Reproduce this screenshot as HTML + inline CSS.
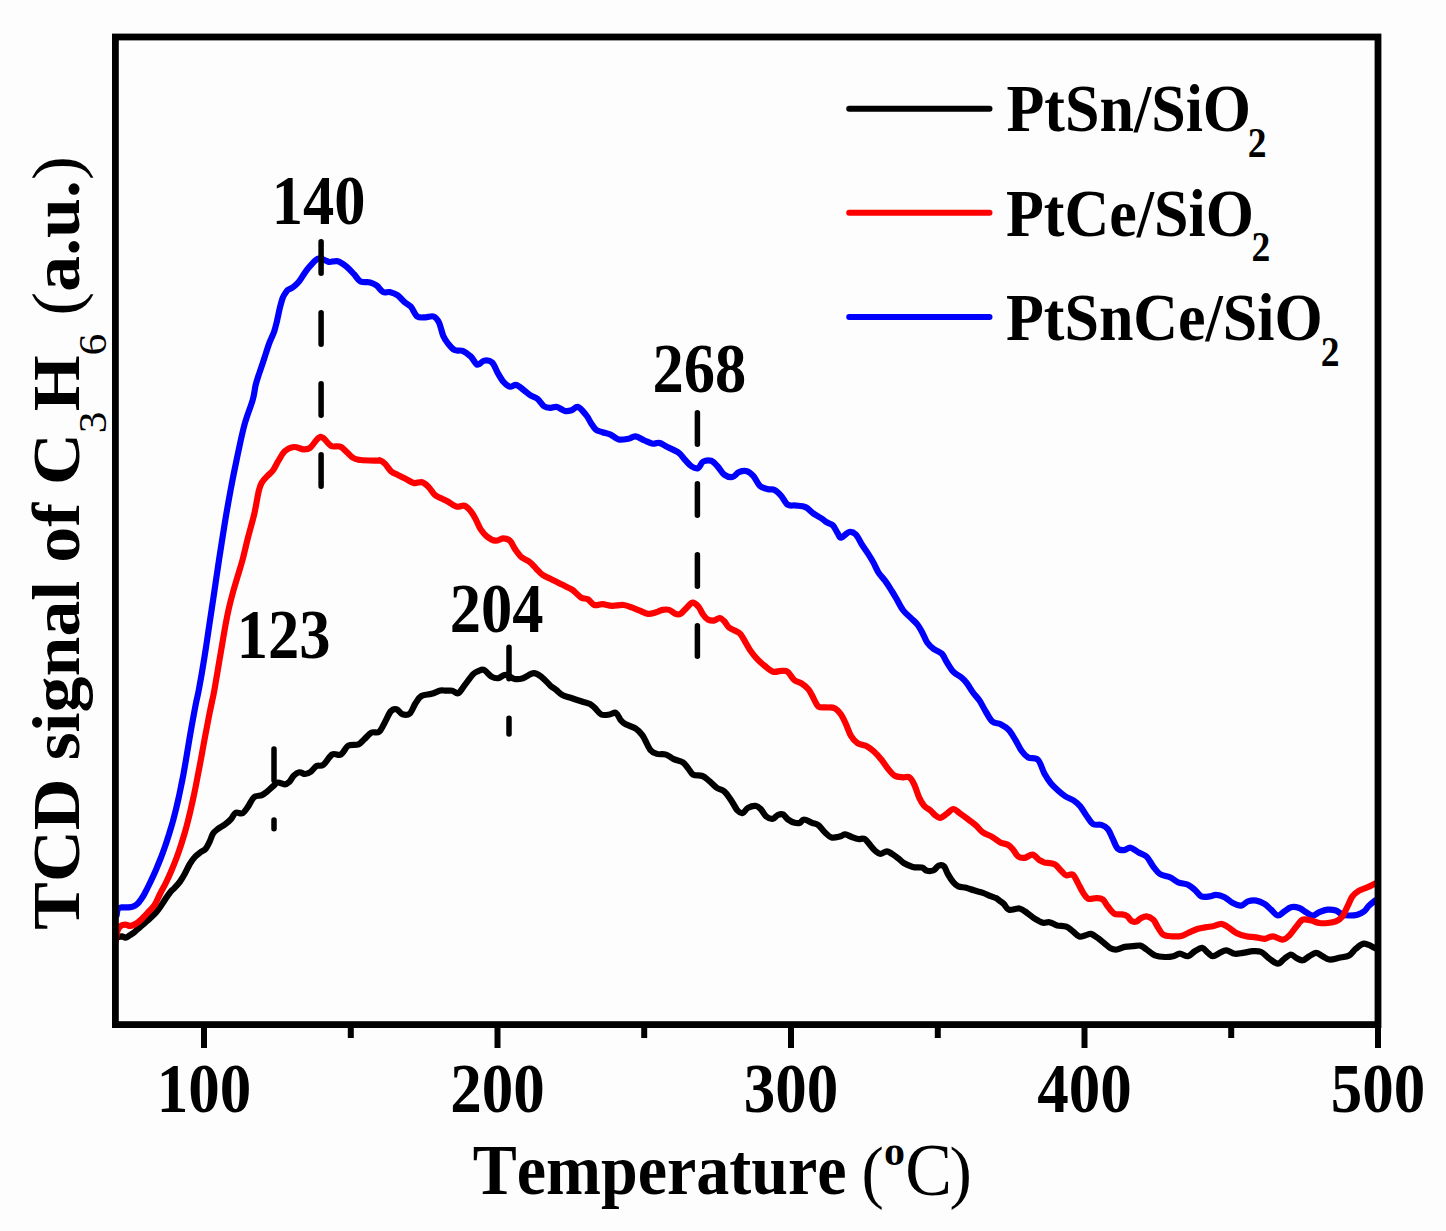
<!DOCTYPE html><html><head><meta charset="utf-8"><style>html,body{margin:0;padding:0;background:#fdfdfd;}svg{display:block;}text{font-family:"Liberation Serif",serif;font-weight:bold;fill:#000;font-kerning:none;}</style></head><body>
<svg width="1446" height="1231" viewBox="0 0 1446 1231">
<rect width="1446" height="1231" fill="#fdfdfd"/>
<g fill="none" stroke-width="6.20" stroke-linejoin="round" stroke-linecap="round">
<path stroke="#000" d="M116.5,937.5 C117.4,937.3 120.3,936.3 121.8,936.3 C123.3,936.3 124.3,937.8 125.7,937.6 C127.1,937.4 128.7,936.0 130.2,935.0 C131.7,934.0 133.2,933.1 134.8,931.8 C136.4,930.5 138.3,928.7 140.0,927.2 C141.7,925.7 143.5,924.2 145.2,922.7 C146.9,921.2 148.7,919.7 150.4,918.1 C152.1,916.5 154.0,914.7 155.6,912.9 C157.2,911.1 158.7,909.0 160.1,907.1 C161.5,905.2 162.7,903.2 164.0,901.2 C165.3,899.2 166.6,897.2 167.9,895.4 C169.2,893.6 170.9,891.4 172.0,890.2 C173.1,889.0 173.2,889.4 174.5,888.0 C175.8,886.6 178.3,884.0 180.0,881.6 C181.7,879.2 183.2,876.7 184.8,873.8 C186.4,870.9 188.1,866.9 189.7,864.1 C191.3,861.4 192.8,859.2 194.6,857.3 C196.4,855.3 198.6,853.8 200.4,852.4 C202.2,851.0 204.0,850.8 205.5,849.0 C207.0,847.2 208.3,844.2 209.6,841.7 C210.8,839.2 211.7,835.8 213.0,833.7 C214.3,831.6 215.4,830.8 217.5,829.2 C219.6,827.6 223.2,825.8 225.5,824.1 C227.8,822.4 229.5,820.8 231.2,818.9 C232.9,817.0 233.8,813.6 235.7,812.7 C237.6,811.8 240.4,814.3 242.5,813.3 C244.6,812.2 246.3,809.1 248.2,806.4 C250.1,803.7 251.6,799.2 253.9,797.3 C256.2,795.4 259.6,796.1 261.9,795.1 C264.2,794.1 265.7,792.6 267.6,791.1 C269.5,789.6 271.6,787.4 273.3,786.0 C275.0,784.6 275.9,782.8 277.8,782.5 C279.7,782.2 282.7,784.4 284.6,784.3 C286.5,784.2 287.7,783.4 289.2,782.0 C290.7,780.6 292.0,777.3 293.7,775.7 C295.4,774.1 297.5,772.6 299.4,772.3 C301.3,772.0 303.2,774.1 305.1,774.0 C307.0,773.9 308.9,773.0 310.8,771.7 C312.7,770.4 314.4,767.2 316.5,766.1 C318.6,765.0 320.8,766.7 323.4,764.8 C326.0,762.9 329.3,756.2 332.2,754.5 C335.1,752.8 338.2,756.0 340.9,754.5 C343.6,753.0 345.4,747.4 348.3,745.7 C351.2,744.0 355.8,745.4 358.5,744.3 C361.2,743.2 362.1,741.2 364.3,739.2 C366.5,737.2 369.2,733.8 371.6,732.6 C374.1,731.4 376.8,733.6 379.0,731.9 C381.2,730.2 382.9,725.8 384.8,722.4 C386.8,719.0 388.8,713.6 390.7,711.4 C392.6,709.2 394.6,708.7 396.5,709.2 C398.4,709.7 400.2,713.6 402.4,714.3 C404.6,715.0 407.5,715.4 409.7,713.6 C411.9,711.8 413.6,706.2 415.5,703.3 C417.4,700.4 418.7,697.6 421.4,696.0 C424.1,694.4 428.4,694.7 431.6,693.8 C434.8,692.9 438.0,691.0 440.4,690.5 C442.8,690.0 444.0,690.7 446.0,690.7 C448.0,690.7 450.3,690.3 452.4,690.7 C454.4,691.1 456.2,694.2 458.3,693.2 C460.4,692.2 462.4,688.1 464.9,684.9 C467.4,681.7 470.9,676.4 473.2,674.1 C475.5,671.8 476.7,671.7 478.5,671.0 C480.3,670.3 481.8,669.0 484.0,669.9 C486.2,670.8 489.1,675.2 491.5,676.6 C493.9,678.0 495.8,678.5 498.1,678.2 C500.5,677.9 502.8,674.8 505.6,674.9 C508.4,675.0 511.8,678.5 514.7,679.0 C517.6,679.5 519.8,679.2 523.0,678.2 C526.2,677.2 530.6,673.3 533.8,673.2 C537.0,673.1 539.3,675.3 542.1,677.4 C544.9,679.5 548.1,683.6 550.4,685.7 C552.7,687.8 554.0,688.2 556.0,689.8 C558.0,691.3 559.7,693.6 562.4,695.0 C565.1,696.4 568.9,697.2 572.1,698.3 C575.4,699.4 578.9,700.5 581.9,701.5 C584.9,702.5 587.8,702.9 590.0,704.0 C592.2,705.1 593.0,706.2 594.9,708.0 C596.8,709.8 598.9,713.4 601.3,714.5 C603.7,715.6 607.0,714.8 609.5,714.5 C612.0,714.2 614.1,711.9 616.0,712.9 C617.9,713.9 619.2,718.3 620.8,720.2 C622.4,722.1 623.2,722.9 625.7,724.3 C628.2,725.7 632.8,726.6 635.5,728.4 C638.2,730.1 640.4,732.8 642.0,734.8 C643.6,736.8 643.8,737.8 645.2,740.3 C646.6,742.8 648.5,747.7 650.4,750.0 C652.3,752.3 654.3,753.1 656.9,753.9 C659.5,754.7 663.2,753.7 666.0,754.6 C668.8,755.5 671.0,757.8 673.8,759.1 C676.6,760.4 680.5,760.9 682.9,762.4 C685.3,763.9 686.4,766.2 688.1,768.2 C689.8,770.2 690.9,773.4 693.3,774.7 C695.7,776.0 699.8,775.0 702.4,776.0 C705.0,777.0 706.5,778.6 708.9,780.6 C711.3,782.6 714.1,785.9 716.7,787.7 C719.3,789.5 722.1,789.5 724.5,791.6 C726.9,793.7 728.8,797.0 731.0,800.1 C733.2,803.2 735.5,808.3 737.5,810.5 C739.5,812.7 741.0,813.5 742.7,813.1 C744.4,812.7 745.7,809.1 747.9,807.9 C750.1,806.7 753.5,805.7 755.7,805.9 C757.9,806.1 759.2,807.5 760.9,809.2 C762.6,810.9 764.1,814.7 766.1,816.3 C768.1,817.9 770.7,819.1 772.6,818.9 C774.5,818.7 776.1,815.8 777.8,815.0 C779.5,814.2 781.3,813.6 783.0,814.4 C784.7,815.2 786.2,818.2 788.2,819.6 C790.2,821.0 792.7,822.3 794.7,822.8 C796.7,823.3 798.5,823.3 800.0,822.8 C801.5,822.2 801.9,819.5 803.9,819.5 C805.9,819.5 809.6,821.8 812.0,822.8 C814.4,823.8 816.3,823.6 818.5,825.2 C820.7,826.8 822.8,830.5 825.0,832.5 C827.2,834.5 829.0,836.8 831.5,837.4 C834.0,838.0 837.7,836.9 840.0,836.4 C842.3,835.9 843.2,834.3 845.2,834.4 C847.2,834.5 849.5,836.2 851.7,837.0 C853.9,837.8 856.0,838.7 858.2,839.0 C860.4,839.3 862.8,838.0 864.7,839.0 C866.7,840.0 868.2,842.8 869.9,844.8 C871.6,846.8 873.4,849.2 875.1,850.7 C876.8,852.2 878.3,853.8 880.3,853.9 C882.2,854.0 884.8,851.3 886.8,851.3 C888.8,851.3 890.0,852.7 892.0,853.9 C894.0,855.1 896.5,857.0 898.5,858.5 C900.5,860.0 901.3,861.6 903.7,863.0 C906.1,864.4 909.8,866.1 912.8,866.9 C915.8,867.7 919.5,867.0 921.9,867.6 C924.3,868.2 925.1,870.4 927.1,870.8 C929.1,871.2 931.7,871.1 933.6,870.2 C935.5,869.3 937.1,866.2 938.8,865.6 C940.5,865.0 942.5,864.9 944.0,866.3 C945.5,867.7 946.4,871.5 947.9,874.1 C949.4,876.7 951.4,879.9 953.1,881.9 C954.8,883.9 956.1,885.4 958.3,886.4 C960.5,887.4 963.5,887.1 966.1,887.7 C968.7,888.4 971.1,889.4 973.9,890.3 C976.7,891.2 980.2,891.9 983.0,892.9 C985.8,893.9 988.6,895.3 990.8,896.2 C993.0,897.1 994.5,897.3 996.0,898.1 C997.5,898.9 998.7,900.0 1000.0,901.0 C1001.3,902.0 1002.4,902.5 1003.9,904.0 C1005.4,905.5 1006.5,909.0 1009.1,909.8 C1011.7,910.5 1016.5,908.0 1019.5,908.5 C1022.5,909.0 1024.7,911.4 1027.3,913.1 C1029.9,914.8 1032.5,917.3 1035.1,918.9 C1037.7,920.5 1040.5,922.2 1042.9,922.8 C1045.3,923.3 1047.0,921.8 1049.4,922.2 C1051.8,922.6 1054.4,924.6 1057.2,925.4 C1060.0,926.1 1063.7,925.7 1066.3,926.7 C1068.9,927.7 1070.6,929.7 1072.8,931.3 C1075.0,932.9 1077.1,935.9 1079.3,936.5 C1081.5,937.1 1083.8,935.6 1085.8,935.2 C1087.8,934.8 1089.0,933.5 1091.0,933.9 C1093.0,934.3 1095.3,936.3 1097.5,937.8 C1099.7,939.3 1101.8,941.3 1104.0,943.0 C1106.2,944.7 1108.3,947.1 1110.5,948.2 C1112.7,949.3 1114.6,949.7 1117.0,949.5 C1119.4,949.3 1122.2,947.4 1124.8,946.9 C1127.4,946.4 1130.0,946.4 1132.6,946.2 C1135.2,946.0 1138.1,945.1 1140.4,945.6 C1142.7,946.1 1144.2,947.9 1146.6,949.5 C1149.0,951.1 1151.9,954.1 1154.9,955.4 C1158.0,956.6 1161.9,956.9 1164.9,957.0 C1168.0,957.1 1170.7,956.8 1173.2,956.2 C1175.7,955.7 1177.3,953.7 1179.8,953.7 C1182.3,953.7 1185.6,956.6 1188.1,956.2 C1190.6,955.8 1192.4,952.6 1194.8,951.2 C1197.2,949.8 1200.0,947.6 1202.2,947.9 C1204.4,948.2 1206.2,951.5 1208.0,952.9 C1209.8,954.3 1211.0,956.2 1213.0,956.2 C1215.0,956.2 1217.5,953.9 1219.7,952.9 C1221.9,951.9 1223.8,950.3 1226.3,950.4 C1228.8,950.5 1231.8,953.3 1234.6,953.7 C1237.4,954.1 1239.9,953.3 1242.9,952.9 C1246.0,952.5 1249.9,951.4 1252.9,951.2 C1256.0,951.1 1258.4,950.8 1261.2,952.0 C1264.0,953.2 1266.7,956.8 1269.5,958.7 C1272.3,960.7 1275.3,963.7 1277.8,963.7 C1280.3,963.7 1282.2,960.2 1284.4,958.7 C1286.6,957.2 1289.1,954.6 1291.0,954.5 C1292.9,954.4 1294.0,956.8 1296.0,957.8 C1298.0,958.8 1300.5,960.6 1302.7,960.3 C1304.9,960.0 1307.1,957.4 1309.3,956.2 C1311.5,955.0 1313.7,952.9 1315.9,952.9 C1318.1,952.9 1320.4,955.1 1322.6,956.2 C1324.8,957.3 1326.4,959.2 1329.2,959.5 C1332.0,959.8 1335.9,958.5 1339.2,957.8 C1342.5,957.1 1346.3,956.9 1349.1,955.4 C1351.9,953.9 1353.3,950.7 1355.8,948.7 C1358.3,946.8 1360.9,943.8 1364.1,943.7 C1367.3,943.6 1373.2,947.3 1375.0,948.0"/>
<path stroke="#0000ff" d="M116.6,915.5 C116.8,914.4 117.0,910.4 117.9,909.0 C118.8,907.6 120.1,907.7 121.8,907.4 C123.5,907.1 126.4,907.6 128.3,907.4 C130.2,907.2 131.9,907.0 133.5,906.4 C135.1,905.8 136.5,904.7 137.8,903.5 C139.1,902.3 140.2,900.6 141.3,899.0 C142.4,897.4 142.9,896.8 144.4,894.0 C145.9,891.2 148.5,886.0 150.4,882.0 C152.3,878.0 154.2,874.0 155.9,870.0 C157.6,866.0 159.2,862.0 160.8,858.0 C162.4,854.0 163.8,850.0 165.2,846.0 C166.6,842.0 167.8,838.0 169.1,834.0 C170.3,830.0 171.6,826.0 172.7,822.0 C173.8,818.0 174.8,814.0 175.8,810.0 C176.8,806.0 177.7,802.0 178.6,798.0 C179.5,794.0 180.3,790.0 181.1,786.0 C181.9,782.0 182.8,778.0 183.5,774.0 C184.2,770.0 184.9,766.0 185.6,762.0 C186.3,758.0 186.9,754.0 187.6,750.0 C188.3,746.0 188.9,742.0 189.6,738.0 C190.3,734.0 191.0,730.0 191.7,726.0 C192.4,722.0 193.2,718.0 193.9,714.0 C194.7,710.0 195.4,706.0 196.2,702.0 C197.0,698.0 197.4,697.4 198.8,690.0 C200.2,682.6 202.7,668.3 204.4,657.5 C206.2,646.7 207.7,635.8 209.3,625.0 C210.9,614.2 212.6,603.3 214.2,592.5 C215.8,581.7 217.2,571.7 219.0,560.0 C220.8,548.3 223.0,534.2 224.9,522.5 C226.8,510.8 228.6,500.8 230.6,490.0 C232.6,479.2 234.8,468.3 237.1,457.5 C239.4,446.7 241.8,434.6 244.4,425.0 C247.0,415.4 250.8,406.6 252.7,400.0 C254.6,393.4 254.5,389.9 255.6,385.3 C256.7,380.7 258.0,377.2 259.5,372.6 C261.0,368.1 262.8,362.9 264.4,358.0 C266.0,353.1 267.6,347.8 269.2,343.4 C270.8,339.0 272.8,335.4 274.1,331.7 C275.4,327.9 276.0,325.0 277.0,320.9 C278.0,316.8 279.0,311.2 280.0,307.3 C281.0,303.4 281.9,299.9 282.9,297.5 C283.8,295.1 284.8,293.9 285.7,292.6 C286.6,291.3 287.0,290.6 288.1,289.8 C289.2,289.0 290.9,288.7 292.2,287.8 C293.5,286.9 295.0,285.6 296.2,284.5 C297.4,283.4 298.4,282.3 299.5,280.9 C300.6,279.5 301.6,277.6 302.7,276.0 C303.8,274.4 304.9,272.6 306.0,271.1 C307.1,269.6 308.1,268.4 309.2,267.1 C310.3,265.8 311.4,264.5 312.5,263.4 C313.6,262.2 314.7,261.0 315.7,260.2 C316.7,259.4 317.5,258.6 318.6,258.5 C319.8,258.4 321.2,258.9 322.6,259.3 C324.0,259.7 325.5,260.6 326.7,261.0 C327.9,261.4 328.2,262.0 330.0,262.0 C331.8,262.0 335.1,260.5 337.7,261.2 C340.3,261.9 343.2,263.9 345.9,266.1 C348.6,268.3 351.6,271.6 354.0,274.2 C356.4,276.8 357.8,280.1 360.5,281.5 C363.2,282.9 367.5,281.7 370.2,282.4 C372.9,283.1 374.5,284.0 376.7,285.6 C378.9,287.2 381.0,291.0 383.2,292.1 C385.4,293.2 387.3,291.6 389.7,292.1 C392.1,292.7 395.4,293.8 397.8,295.4 C400.2,297.0 402.1,300.0 404.3,301.9 C406.5,303.8 408.6,304.3 410.8,306.7 C413.0,309.1 414.9,314.7 417.3,316.5 C419.8,318.3 422.8,317.3 425.5,317.3 C428.2,317.3 431.4,315.6 433.6,316.5 C435.9,317.4 437.4,319.2 439.0,322.5 C440.6,325.8 441.8,332.5 443.3,336.0 C444.8,339.5 446.2,341.2 448.1,343.6 C450.0,346.0 452.2,348.9 454.6,350.1 C457.0,351.3 460.0,349.8 462.7,350.9 C465.4,352.0 468.4,354.3 470.9,356.6 C473.3,358.9 475.2,364.0 477.4,364.7 C479.6,365.4 481.5,361.1 483.9,360.7 C486.3,360.3 489.7,360.3 492.0,362.3 C494.3,364.3 495.8,369.6 497.7,372.9 C499.6,376.1 501.4,379.5 503.4,381.8 C505.4,384.1 507.7,386.2 509.9,386.7 C512.1,387.2 514.0,384.3 516.4,385.0 C518.8,385.7 522.1,388.9 524.5,390.7 C526.9,392.5 528.8,394.2 531.0,395.6 C533.2,397.0 535.3,397.1 537.5,398.9 C539.7,400.7 541.8,404.7 544.0,406.2 C546.2,407.7 548.3,407.7 550.5,407.8 C552.7,407.9 554.6,406.5 557.0,407.0 C559.4,407.5 562.7,410.5 565.1,411.0 C567.5,411.5 569.4,410.9 571.6,410.2 C573.8,409.5 575.7,406.2 578.1,407.0 C580.5,407.8 584.0,412.4 586.2,415.1 C588.4,417.8 589.5,420.8 591.1,423.2 C592.7,425.6 594.1,428.2 596.0,429.7 C597.9,431.2 600.1,431.4 602.5,432.2 C604.9,433.0 607.9,433.4 610.6,434.6 C613.3,435.8 615.7,438.8 618.7,439.5 C621.7,440.2 625.7,439.2 628.5,438.7 C631.3,438.2 632.8,436.0 635.5,436.3 C638.2,436.6 641.7,439.3 644.6,440.5 C647.5,441.7 650.3,443.3 652.7,443.7 C655.1,444.1 656.8,442.3 659.2,442.9 C661.7,443.4 664.1,445.4 667.4,447.0 C670.6,448.6 675.7,450.5 678.7,452.7 C681.7,454.9 683.0,457.7 685.2,460.0 C687.4,462.3 689.5,465.1 691.7,466.5 C693.9,467.9 696.3,468.9 698.2,468.1 C700.1,467.3 700.9,462.8 703.1,461.6 C705.3,460.4 708.8,460.0 711.2,460.8 C713.6,461.6 715.5,464.2 717.7,466.5 C719.9,468.8 721.8,472.9 724.2,474.6 C726.7,476.4 730.0,477.4 732.4,477.0 C734.8,476.6 736.5,473.1 738.9,472.2 C741.3,471.2 744.6,470.6 747.0,471.3 C749.4,472.0 751.3,473.8 753.5,476.2 C755.7,478.6 757.6,483.8 760.0,486.0 C762.4,488.2 765.7,488.5 768.1,489.2 C770.5,489.9 772.4,488.9 774.6,490.0 C776.8,491.1 778.9,493.2 781.1,495.7 C783.3,498.1 785.2,503.1 787.6,504.7 C790.0,506.3 792.7,505.1 795.7,505.5 C798.7,505.9 802.5,505.8 805.5,507.1 C808.5,508.5 810.9,511.7 813.6,513.6 C816.3,515.5 819.6,517.1 821.7,518.5 C823.9,519.9 824.6,521.0 826.5,522.2 C828.4,523.4 831.1,523.6 833.0,525.5 C834.9,527.4 836.5,531.6 837.9,533.6 C839.2,535.6 839.2,538.0 841.1,537.7 C843.0,537.4 846.8,532.5 849.2,532.0 C851.6,531.5 853.5,532.2 855.7,534.4 C857.9,536.6 860.0,541.6 862.2,545.0 C864.4,548.4 866.8,551.7 868.7,554.7 C870.6,557.7 872.0,559.9 873.6,562.9 C875.2,565.9 876.6,569.6 878.5,572.6 C880.4,575.6 882.8,577.7 885.0,580.7 C887.2,583.7 889.6,587.5 891.5,590.5 C893.4,593.5 894.5,595.4 896.4,598.6 C898.3,601.9 900.5,606.8 902.9,610.0 C905.3,613.2 908.6,615.7 911.0,618.1 C913.4,620.5 915.6,622.2 917.5,624.6 C919.4,627.0 920.8,629.7 922.4,632.7 C924.0,635.7 925.3,639.8 927.2,642.5 C929.1,645.2 931.2,647.1 933.7,649.0 C936.2,650.9 939.7,651.6 941.9,653.8 C944.1,656.0 944.8,659.0 946.7,662.0 C948.6,665.0 950.8,669.1 953.2,671.7 C955.6,674.3 959.1,675.6 961.3,677.4 C963.5,679.2 964.5,680.2 966.5,682.7 C968.5,685.2 970.8,689.5 973.0,692.5 C975.2,695.5 977.3,697.4 979.5,700.6 C981.7,703.9 983.8,708.5 986.0,712.0 C988.2,715.5 990.1,719.7 992.5,721.7 C994.9,723.7 997.9,722.8 1000.6,724.2 C1003.3,725.6 1006.3,727.3 1008.7,729.9 C1011.1,732.5 1013.0,736.1 1015.2,739.6 C1017.4,743.1 1019.5,748.0 1021.7,751.0 C1023.9,754.0 1025.5,756.0 1028.2,757.5 C1030.9,759.0 1035.3,757.2 1038.0,759.9 C1040.7,762.6 1042.3,769.8 1044.5,773.7 C1046.7,777.6 1048.8,780.8 1051.0,783.5 C1053.2,786.2 1055.1,787.8 1057.5,790.0 C1059.9,792.2 1062.9,794.8 1065.6,796.5 C1068.3,798.2 1071.3,798.9 1073.7,800.5 C1076.1,802.1 1078.0,803.6 1080.2,806.2 C1082.4,808.8 1084.5,813.0 1086.7,816.0 C1088.9,819.0 1090.8,822.6 1093.2,824.1 C1095.6,825.6 1098.9,824.1 1101.3,824.9 C1103.7,825.7 1105.9,826.7 1107.8,829.0 C1109.7,831.3 1111.1,835.5 1112.7,838.7 C1114.3,842.0 1115.7,846.6 1117.6,848.5 C1119.5,850.4 1121.9,850.2 1124.1,850.1 C1126.3,850.0 1128.2,847.3 1130.6,847.7 C1133.0,848.1 1136.0,851.0 1138.7,852.5 C1141.4,854.0 1144.2,854.2 1146.6,856.6 C1149.0,859.0 1151.1,863.7 1153.3,866.6 C1155.5,869.5 1157.1,872.2 1159.9,874.0 C1162.7,875.8 1166.9,875.9 1169.9,877.3 C1173.0,878.7 1175.2,881.0 1178.2,882.3 C1181.2,883.5 1185.3,883.5 1188.1,884.8 C1190.9,886.0 1192.6,887.9 1194.8,889.8 C1197.0,891.7 1198.9,895.3 1201.4,896.4 C1203.9,897.5 1207.2,896.7 1209.7,896.4 C1212.2,896.1 1213.8,894.6 1216.3,894.8 C1218.8,894.9 1221.8,895.9 1224.6,897.3 C1227.4,898.7 1230.1,901.7 1232.9,903.1 C1235.7,904.5 1238.7,905.9 1241.2,905.6 C1243.7,905.3 1245.4,902.2 1247.9,901.4 C1250.4,900.6 1253.4,900.2 1256.2,900.6 C1259.0,901.0 1262.0,902.4 1264.5,903.9 C1267.0,905.4 1268.9,907.8 1271.1,909.7 C1273.3,911.6 1275.6,915.2 1277.8,915.5 C1280.0,915.8 1282.2,912.8 1284.4,911.4 C1286.6,910.0 1288.5,907.8 1291.0,907.2 C1293.5,906.6 1296.8,907.2 1299.3,908.0 C1301.8,908.8 1303.8,911.0 1306.0,912.2 C1308.2,913.5 1310.4,915.5 1312.6,915.5 C1314.8,915.5 1316.8,913.2 1319.3,912.2 C1321.8,911.2 1324.8,910.0 1327.6,909.7 C1330.4,909.4 1333.4,909.7 1335.9,910.5 C1338.4,911.3 1340.3,913.9 1342.5,914.7 C1344.7,915.5 1346.6,915.5 1349.1,915.5 C1351.6,915.5 1354.9,915.4 1357.4,914.7 C1359.9,914.0 1362.2,912.9 1364.1,911.4 C1366.0,909.9 1367.2,907.4 1369.0,905.6 C1370.8,903.8 1374.0,901.4 1375.0,900.6"/>
<path stroke="#ff0000" d="M115.9,940.2 C116.1,938.8 116.6,934.1 117.2,931.8 C117.8,929.5 118.5,927.8 119.8,926.6 C121.1,925.4 123.3,924.7 125.0,924.6 C126.7,924.5 128.5,926.0 130.2,925.9 C131.9,925.8 133.8,924.9 135.4,924.0 C137.0,923.1 138.5,922.0 140.0,920.7 C141.5,919.4 143.0,917.8 144.5,916.2 C146.0,914.6 147.4,912.9 149.1,911.0 C150.8,909.1 152.8,907.8 154.6,905.0 C156.4,902.2 158.1,897.8 160.0,894.0 C161.9,890.2 164.4,886.0 166.3,882.0 C168.2,878.0 170.0,874.0 171.7,870.0 C173.4,866.0 175.0,862.0 176.5,858.0 C178.0,854.0 179.4,850.0 180.7,846.0 C182.0,842.0 183.2,838.0 184.4,834.0 C185.6,830.0 186.7,826.0 187.7,822.0 C188.7,818.0 189.7,814.0 190.6,810.0 C191.5,806.0 192.4,802.0 193.3,798.0 C194.2,794.0 195.0,790.0 195.8,786.0 C196.6,782.0 197.3,778.0 198.1,774.0 C198.9,770.0 199.7,766.0 200.4,762.0 C201.2,758.0 201.9,754.0 202.6,750.0 C203.3,746.0 204.1,742.0 204.8,738.0 C205.6,734.0 206.3,730.0 207.1,726.0 C207.9,722.0 208.6,718.0 209.4,714.0 C210.2,710.0 211.1,706.0 211.9,702.0 C212.7,698.0 213.1,697.4 214.4,690.0 C215.7,682.6 218.1,668.3 219.9,657.5 C221.8,646.7 224.0,633.1 225.5,625.0 C227.0,616.9 227.6,614.1 228.8,608.7 C230.0,603.3 231.4,597.9 232.9,592.5 C234.4,587.1 236.1,581.6 237.7,576.2 C239.3,570.8 240.8,566.2 242.5,560.0 C244.2,553.8 245.8,546.3 247.7,538.7 C249.6,531.1 252.3,522.4 254.2,514.3 C256.1,506.2 257.6,495.4 259.0,490.0 C260.4,484.6 260.8,484.3 262.3,481.9 C263.8,479.5 266.2,477.3 268.0,475.4 C269.8,473.5 271.1,472.9 272.9,470.5 C274.6,468.1 276.5,463.9 278.5,460.7 C280.5,457.4 282.4,453.3 285.0,451.0 C287.6,448.7 290.9,447.3 294.0,447.0 C297.1,446.7 301.0,449.3 303.7,449.4 C306.4,449.5 307.8,449.6 310.2,447.7 C312.6,445.8 316.2,439.6 318.4,438.0 C320.6,436.4 321.0,436.7 323.2,438.0 C325.4,439.3 328.3,444.5 331.3,446.0 C334.3,447.5 337.5,445.1 341.0,447.0 C344.5,448.9 349.2,455.3 352.5,457.5 C355.8,459.7 356.6,459.5 360.6,460.0 C364.7,460.5 373.6,460.6 376.8,460.7 C380.0,460.8 378.6,459.8 380.0,460.3 C381.4,460.8 383.0,461.7 384.9,463.6 C386.8,465.5 389.2,469.8 391.4,471.7 C393.6,473.6 395.5,473.7 397.9,474.9 C400.3,476.1 403.3,477.6 406.0,479.0 C408.7,480.4 411.4,482.6 414.1,483.1 C416.8,483.6 419.8,481.5 422.2,482.2 C424.6,482.9 426.5,484.9 428.7,487.1 C430.9,489.3 433.0,493.3 435.2,495.2 C437.4,497.1 439.5,497.4 441.7,498.5 C443.9,499.6 445.8,500.3 448.2,501.7 C450.6,503.1 453.7,505.9 456.4,506.6 C459.1,507.3 462.1,505.0 464.5,505.8 C466.9,506.6 469.1,509.2 471.0,511.5 C472.9,513.8 474.3,516.6 475.9,519.6 C477.5,522.6 478.8,526.5 480.7,529.4 C482.6,532.2 484.8,534.8 487.2,536.7 C489.6,538.6 492.7,540.4 495.4,540.7 C498.1,541.0 501.1,538.3 503.5,538.3 C505.9,538.3 508.1,538.9 510.0,540.7 C511.9,542.5 513.0,546.2 514.9,548.9 C516.8,551.6 518.9,554.8 521.3,557.0 C523.7,559.2 527.0,560.0 529.5,561.9 C532.0,563.8 533.8,566.2 536.0,568.4 C538.2,570.5 539.8,572.9 542.5,574.8 C545.2,576.7 549.0,578.1 552.2,579.7 C555.5,581.3 558.8,583.0 562.0,584.6 C565.2,586.2 569.6,588.3 571.7,589.5 C573.9,590.7 573.3,590.6 574.9,592.0 C576.5,593.4 579.2,596.5 581.4,597.7 C583.6,598.9 585.7,598.1 587.9,599.3 C590.1,600.5 592.0,604.2 594.4,605.0 C596.8,605.8 599.5,604.1 602.5,604.2 C605.5,604.3 608.7,605.7 612.2,605.8 C615.7,605.9 620.4,604.7 623.6,605.0 C626.9,605.3 629.0,606.4 631.7,607.4 C634.4,608.4 637.2,609.6 639.9,610.7 C642.6,611.8 645.3,613.6 648.0,613.9 C650.7,614.2 653.7,613.0 656.1,612.3 C658.5,611.6 660.4,610.3 662.6,609.9 C664.8,609.5 666.9,609.2 669.1,609.9 C671.3,610.6 673.7,613.2 675.6,613.9 C677.5,614.6 678.6,615.0 680.5,613.9 C682.4,612.8 685.0,609.3 687.0,607.4 C689.0,605.5 690.8,602.7 692.7,602.6 C694.6,602.5 696.6,604.6 698.4,606.6 C700.1,608.6 701.6,612.5 703.2,614.7 C704.8,616.9 706.2,618.7 708.1,619.6 C710.0,620.5 712.7,620.7 714.6,620.4 C716.5,620.1 717.9,617.9 719.5,618.0 C721.1,618.1 722.7,619.6 724.3,621.2 C725.9,622.8 727.3,626.1 729.2,627.7 C731.1,629.3 733.8,629.9 735.7,631.0 C737.6,632.1 739.0,632.3 740.6,634.2 C742.2,636.1 743.9,639.7 745.5,642.4 C747.1,645.1 748.4,647.8 750.3,650.5 C752.2,653.2 754.4,656.0 756.8,658.6 C759.2,661.2 762.2,663.8 764.9,666.0 C767.6,668.2 770.3,670.9 773.0,671.7 C775.7,672.5 778.7,670.9 781.1,670.9 C783.5,670.9 785.4,670.2 787.6,671.7 C789.8,673.2 791.7,677.8 794.1,679.8 C796.5,681.8 799.8,682.3 802.2,683.9 C804.6,685.5 806.8,687.2 808.7,689.6 C810.6,692.0 812.0,695.7 813.6,698.5 C815.2,701.3 816.3,705.1 818.5,706.6 C820.7,708.1 823.9,707.1 826.6,707.4 C829.3,707.7 832.3,707.0 834.7,708.2 C837.1,709.4 839.3,712.0 841.2,714.7 C843.1,717.4 844.5,721.0 846.1,724.5 C847.7,728.0 849.1,732.8 851.0,735.9 C852.9,739.0 854.8,741.5 857.5,743.2 C860.2,745.0 864.5,745.0 867.2,746.4 C869.9,747.8 871.2,749.0 873.7,751.3 C876.2,753.6 879.5,757.2 881.9,760.2 C884.3,763.2 886.2,766.6 888.4,769.2 C890.5,771.8 892.4,774.4 894.8,775.7 C897.2,777.1 900.5,777.0 903.0,777.3 C905.5,777.6 907.6,776.1 909.5,777.3 C911.4,778.5 912.7,781.2 914.3,784.6 C915.9,788.0 917.6,794.1 919.2,797.6 C920.8,801.1 922.2,803.5 924.1,805.7 C926.0,807.9 928.7,809.0 930.6,810.6 C932.5,812.2 933.9,814.3 935.5,815.5 C937.1,816.7 938.4,818.2 940.3,817.9 C942.2,817.6 944.6,815.3 946.8,813.8 C949.0,812.3 951.1,809.1 953.3,809.0 C955.5,808.9 957.2,811.4 959.8,813.2 C962.4,815.0 966.3,817.9 969.0,820.0 C971.7,822.1 973.9,823.7 976.2,825.7 C978.5,827.7 980.0,830.3 982.7,832.2 C985.4,834.1 989.6,835.4 992.5,837.1 C995.4,838.8 997.8,841.1 1000.3,842.4 C1002.8,843.7 1005.7,843.6 1007.8,844.8 C1009.9,846.0 1011.3,847.4 1013.0,849.4 C1014.7,851.4 1016.2,855.1 1018.2,856.5 C1020.2,857.9 1022.3,858.1 1024.7,857.8 C1027.1,857.5 1030.1,854.3 1032.5,854.6 C1034.9,854.9 1037.0,858.5 1039.0,859.8 C1041.0,861.1 1041.6,861.6 1044.2,862.4 C1046.8,863.1 1051.8,862.9 1054.6,864.3 C1057.4,865.7 1059.1,868.9 1061.1,870.8 C1063.0,872.6 1064.3,874.8 1066.3,875.4 C1068.2,876.0 1070.8,873.4 1072.8,874.7 C1074.8,876.0 1076.3,880.2 1078.0,883.2 C1079.7,886.2 1081.5,890.3 1083.2,892.9 C1084.9,895.5 1086.2,897.9 1088.4,898.8 C1090.6,899.7 1093.8,898.0 1096.2,898.1 C1098.6,898.2 1100.8,898.0 1102.7,899.4 C1104.7,900.8 1106.0,904.2 1107.9,906.6 C1109.9,909.0 1112.0,912.4 1114.4,913.7 C1116.8,915.0 1120.0,914.0 1122.2,914.4 C1124.4,914.8 1125.9,915.2 1127.4,916.3 C1128.9,917.4 1129.8,920.0 1131.3,920.9 C1132.8,921.8 1135.0,921.9 1136.5,921.5 C1138.0,921.1 1138.8,919.4 1140.5,918.5 C1142.2,917.6 1144.5,916.1 1146.6,916.3 C1148.7,916.5 1151.3,917.8 1153.3,919.7 C1155.2,921.7 1156.6,925.5 1158.3,928.0 C1160.0,930.5 1161.0,933.2 1163.2,934.6 C1165.4,936.0 1168.5,936.1 1171.5,936.3 C1174.5,936.5 1178.5,936.6 1181.5,935.9 C1184.5,935.2 1187.0,933.3 1189.8,932.1 C1192.6,930.9 1195.3,929.6 1198.1,928.8 C1200.9,928.0 1203.9,927.5 1206.4,927.1 C1208.9,926.7 1210.5,926.8 1213.0,926.3 C1215.5,925.8 1218.8,923.7 1221.3,923.8 C1223.8,923.9 1225.5,925.6 1228.0,927.1 C1230.5,928.6 1233.3,931.4 1236.3,932.9 C1239.3,934.4 1243.2,935.6 1246.2,936.3 C1249.2,937.0 1251.5,936.7 1254.5,937.1 C1257.5,937.5 1261.5,938.9 1264.5,938.8 C1267.5,938.7 1269.8,936.2 1272.8,936.3 C1275.8,936.4 1279.9,939.8 1282.7,939.6 C1285.5,939.5 1287.2,937.5 1289.4,935.4 C1291.6,933.3 1293.8,929.7 1296.0,927.1 C1298.2,924.5 1300.2,920.8 1302.7,919.7 C1305.2,918.6 1308.2,920.0 1311.0,920.5 C1313.8,921.0 1316.5,922.6 1319.3,923.0 C1322.1,923.4 1324.8,923.3 1327.6,923.0 C1330.4,922.7 1333.4,922.4 1335.9,921.3 C1338.4,920.2 1340.6,918.8 1342.5,916.3 C1344.4,913.8 1345.8,909.7 1347.5,906.4 C1349.2,903.1 1350.5,899.0 1352.4,896.4 C1354.3,893.8 1356.6,892.1 1359.1,890.6 C1361.6,889.1 1364.8,888.5 1367.4,887.3 C1370.1,886.1 1373.7,884.1 1375.0,883.5"/>
</g>
<rect x="115.4" y="37" width="1262.6" height="987.6" fill="none" stroke="#000" stroke-width="6.8"/>
<line x1="204.0" y1="1024" x2="204.0" y2="1048" stroke="#000" stroke-width="6"/>
<line x1="497.5" y1="1024" x2="497.5" y2="1048" stroke="#000" stroke-width="6"/>
<line x1="791.0" y1="1024" x2="791.0" y2="1048" stroke="#000" stroke-width="6"/>
<line x1="1084.5" y1="1024" x2="1084.5" y2="1048" stroke="#000" stroke-width="6"/>
<line x1="1378.0" y1="1024" x2="1378.0" y2="1048" stroke="#000" stroke-width="6"/>
<line x1="350.8" y1="1024" x2="350.8" y2="1038" stroke="#000" stroke-width="6"/>
<line x1="644.2" y1="1024" x2="644.2" y2="1038" stroke="#000" stroke-width="6"/>
<line x1="937.8" y1="1024" x2="937.8" y2="1038" stroke="#000" stroke-width="6"/>
<line x1="1231.2" y1="1024" x2="1231.2" y2="1038" stroke="#000" stroke-width="6"/>
<text transform="translate(204.0,1112) scale(1,1.105)" font-size="63" text-anchor="middle">100</text>
<text transform="translate(497.5,1112) scale(1,1.105)" font-size="63" text-anchor="middle">200</text>
<text transform="translate(791.0,1112) scale(1,1.105)" font-size="63" text-anchor="middle">300</text>
<text transform="translate(1084.5,1112) scale(1,1.105)" font-size="63" text-anchor="middle">400</text>
<text transform="translate(1378.0,1112) scale(1,1.105)" font-size="63" text-anchor="middle">500</text>
<line x1="321.1" y1="241.75" x2="321.1" y2="486.65" stroke="#000" stroke-width="5.5" stroke-linecap="round" stroke-dasharray="31.50 39.50"/>
<line x1="697.4" y1="412.75" x2="697.4" y2="656.25" stroke="#000" stroke-width="5.5" stroke-linecap="round" stroke-dasharray="31.50 39.50"/>
<line x1="509" y1="647.15" x2="509" y2="734.05" stroke="#000" stroke-width="5.5" stroke-linecap="round" stroke-dasharray="31.50 39.50"/>
<line x1="274" y1="748.95" x2="274" y2="828.65" stroke="#000" stroke-width="5.5" stroke-linecap="round" stroke-dasharray="31.50 39.50"/>
<text transform="translate(271.8,223.5) scale(1,1.1)" font-size="62.5">140</text>
<text transform="translate(652.6,391.7) scale(1,1.1)" font-size="62.5">268</text>
<text transform="translate(236.8,657.5) scale(1,1.1)" font-size="62.5">123</text>
<text transform="translate(449.7,631.7) scale(1,1.1)" font-size="62.5">204</text>
<line x1="849.2" y1="108.8" x2="989.5" y2="108.8" stroke="#000" stroke-width="6" stroke-linecap="round"/>
<text transform="translate(1006.5,130.8) scale(1,1.1)" font-size="62">PtSn/SiO</text>
<text transform="translate(1247.7,157.1) scale(1,1.1)" font-size="37.6">2</text>
<line x1="849.2" y1="212.8" x2="989.5" y2="212.8" stroke="#ff0000" stroke-width="6" stroke-linecap="round"/>
<text transform="translate(1006,235.8) scale(1,1.1)" font-size="62">PtCe/SiO</text>
<text transform="translate(1251.5,261.1) scale(1,1.1)" font-size="37.6">2</text>
<line x1="849.2" y1="316.9" x2="989.5" y2="316.9" stroke="#0000ff" stroke-width="6" stroke-linecap="round"/>
<text transform="translate(1005.9,339.7) scale(1,1.1)" font-size="62">PtSnCe/SiO</text>
<text transform="translate(1320.7,365.9) scale(1,1.1)" font-size="37.6">2</text>
<text transform="translate(472.8,1194.2) scale(1,1.09)" font-size="66">Temperature</text>
<text transform="translate(861.5,1194.5) scale(1,1.05)" font-size="67" style="font-weight:normal">(</text>
<text transform="translate(884,1165.4) scale(1,1.0)" font-size="42">o</text>
<text transform="translate(905.2,1195.2) scale(1,1.07)" font-size="70" style="font-weight:normal">C</text>
<text transform="translate(949.4,1194.5) scale(1,1.05)" font-size="67" style="font-weight:normal">)</text>
<text transform="translate(79.1,929.9) rotate(-90) scale(1.064,1)" font-size="67.5">TCD signal of C<tspan font-size="41" font-weight="normal" dy="26.8">3</tspan><tspan dy="-26.8">H</tspan><tspan font-size="41" font-weight="normal" dy="26.8">6</tspan><tspan dy="-26.8"> </tspan><tspan font-weight="normal">(</tspan>a.u.<tspan font-weight="normal">)</tspan></text>
</svg></body></html>
